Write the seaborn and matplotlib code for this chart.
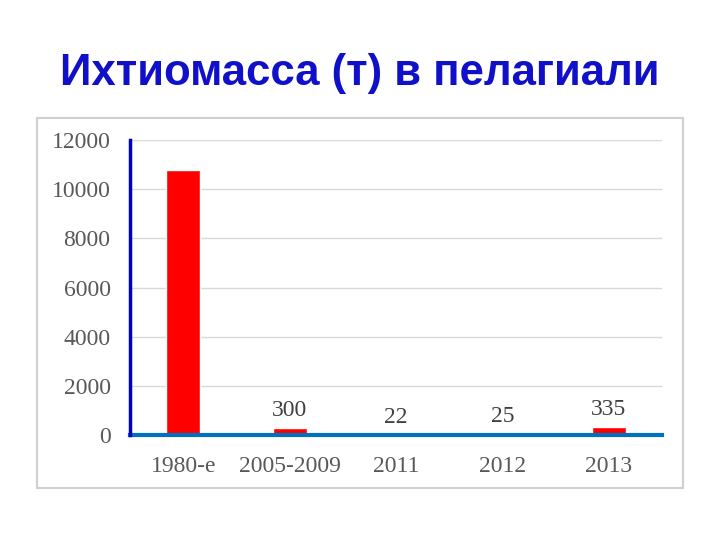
import matplotlib.pyplot as plt
import matplotlib.patches as patches
import seaborn as sns

categories = ["1980-е", "2005-2009", "2011", "2012", "2013"]
values = [10800, 300, 22, 25, 335]
bar_labels = ["", "300", "22", "25", "335"]
yticks = [0, 2000, 4000, 6000, 8000, 10000, 12000]

sns.set_style("white")
plt.rcParams["font.family"] = ["Liberation Serif", "DejaVu Serif"]

fig = plt.figure(figsize=(7.2, 5.4), dpi=100)
ax = fig.add_axes([130 / 720, 1 - 435 / 540, 532 / 720, 295 / 540])

sns.barplot(x=categories, y=values, color="#FF0000", width=0.32, saturation=1, ax=ax)
ax.bar_label(ax.containers[0], labels=bar_labels, padding=5, fontsize=17, color="#404040")

ax.set_ylim(0, 12000)
ax.set_yticks(yticks)
ax.set_yticklabels([str(t) for t in yticks])
ax.set_xlim(-0.5, 4.5)
ax.grid(axis="y", color="#D9D9D9", linewidth=1)
ax.set_axisbelow(True)
ax.tick_params(axis="both", length=0, labelsize=17, colors="#595959")
ax.tick_params(axis="y", pad=14)
ax.tick_params(axis="x", pad=15)
ax.set_xlabel("")
ax.set_ylabel("")

for side in ["top", "right"]:
    ax.spines[side].set_visible(False)
ax.spines["left"].set_color("#0000C0")
ax.spines["left"].set_linewidth(2.5)
ax.spines["bottom"].set_color("#0070C0")
ax.spines["bottom"].set_linewidth(3)
ax.spines["bottom"].set_zorder(1)

# frame around the chart
fig.patches.append(patches.Rectangle((37 / 720, 1 - 488 / 540), 646 / 720, 370 / 540,
                                     transform=fig.transFigure, fill=False,
                                     edgecolor="#D0D0D0", linewidth=1.5))

fig.text(0.5, 1 - 73 / 540, "Ихтиомасса (т) в пелагиали", ha="center", va="center",
         fontsize=31.5, fontweight="bold", color="#1010C8", family=["Liberation Sans", "DejaVu Sans"])

plt.savefig("out.png", dpi=100)
